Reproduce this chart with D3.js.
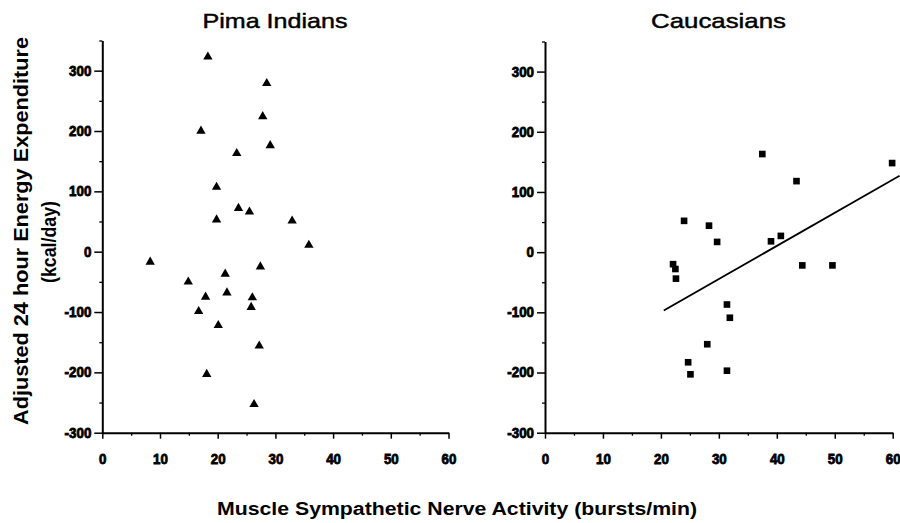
<!DOCTYPE html>
<html><head><meta charset="utf-8">
<script src="https://cdn.jsdelivr.net/npm/d3@7"></script>
<style>
body{margin:0;background:#fff;}
svg{display:block;}
</style></head>
<body>
<svg id="chart" width="900" height="523"></svg>
<script>
// ---- data ----
const pimaX = [18.3, 28.5, 27.8, 17.1, 29.1, 23.3, 19.8, 23.6, 25.5, 19.8, 32.9, 35.8, 8.3, 27.4, 21.3, 14.9, 21.6, 17.9, 26.0, 25.8, 16.7, 20.1, 27.2, 18.1, 26.3];
const pimaY = [323, 279, 224, 200, 176, 163, 107, 72, 66, 53, 51, 11, -17, -25, -37, -50, -68, -75, -76, -92, -99, -122, -156, -203, -253];
const caucX = [37.5, 59.9, 43.4, 24.0, 28.3, 29.7, 39.0, 40.7, 22.1, 22.5, 22.6, 44.4, 49.6, 31.4, 31.9, 28.0, 24.7, 25.1, 31.4];
const caucY = [163, 148, 118, 52, 44, 17, 18, 27, -20, -28, -44, -22, -22, -87, -109, -153, -183, -203, -197];
const fitX = [20.5, 61.2];
const fitY = [-97, 127];
const xMajorTicks = [0, 10, 20, 30, 40, 50, 60];
const xMinorTicks = [5, 15, 25, 35, 45, 55];
const yMajorTicks = [-300, -200, -100, 0, 100, 200, 300];
const yMinorTicks = [-250, -150, -50, 50, 150, 250, 350];
const titles = ["Pima Indians", "Caucasians"];
const yLabel1 = "Adjusted 24 hour Energy Expenditure";
const yLabel2 = "(kcal/day)";
const xLabel = "Muscle Sympathetic Nerve Activity (bursts/min)";

const FONT = "Liberation Sans, Arial, Helvetica, sans-serif";
const svg = d3.select("#chart");

const panels = [
  {x0: 102.3, x1: 448.5, y0: 432.7, y1: 40.5, title: titles[0], tx: 275, tl: 145, xs: pimaX, ys: pimaY, sym: d3.symbolTriangle, size: 38},
  {x0: 545, x1: 892.7, y0: 432.7, y1: 41.5, title: titles[1], tx: 718.5, tl: 135, xs: caucX, ys: caucY, sym: d3.symbolSquare, size: 44}
];

function styleTickText(sel) {
  sel.selectAll(".tick text")
    .style("font-family", FONT).style("font-weight", "bold").style("font-size", "14px").attr("fill", "#000")
    .attr("stroke", "#000").attr("stroke-width", 0.8)
    .attr("textLength", function() {
      const s = this.textContent;
      let w = 0;
      for (const c of s) w += (c === "-") ? 4.5 : 7.4;
      return w;
    })
    .attr("lengthAdjust", "spacingAndGlyphs");
}

panels.forEach((p, i) => {
  const x = d3.scaleLinear().domain([0, 60]).range([p.x0, p.x1]);
  const y = d3.scaleLinear().domain([-300, 350]).range([p.y0, p.y1]);
  const g = svg.append("g");

  // minor ticks
  g.append("g").attr("transform", `translate(0,${p.y0})`)
    .call(d3.axisBottom(x).tickValues(xMinorTicks).tickSize(3).tickFormat(""))
    .call(s => s.select(".domain").remove())
    .selectAll("line").attr("stroke-width", 1.3);
  g.append("g").attr("transform", `translate(${p.x0},0)`)
    .call(d3.axisLeft(y).tickValues(yMinorTicks).tickSize(3).tickFormat(""))
    .call(s => s.select(".domain").remove())
    .selectAll("line").attr("stroke-width", 1.3);

  // major x axis
  const xa = g.append("g").attr("transform", `translate(0,${p.y0})`)
    .call(d3.axisBottom(x).tickValues(xMajorTicks).tickSize(6).tickSizeOuter(0).tickPadding(15).tickFormat(d => String(d)));
  xa.select(".domain").attr("stroke-width", 2);
  xa.selectAll(".tick line").attr("stroke-width", 1.5);
  styleTickText(xa);

  // major y axis
  const ya = g.append("g").attr("transform", `translate(${p.x0},0)`)
    .call(d3.axisLeft(y).tickValues(yMajorTicks).tickSize(8).tickSizeOuter(0).tickPadding(3).tickFormat(d => String(d)));
  ya.select(".domain").attr("stroke-width", 2);
  ya.selectAll(".tick line").attr("stroke-width", 1.5);
  styleTickText(ya);

  // title
  svg.append("text").attr("x", p.tx).attr("y", 28).attr("text-anchor", "middle")
    .attr("font-family", FONT).attr("font-size", 21)
    .attr("stroke", "#000").attr("stroke-width", 0.45)
    .attr("textLength", p.tl).attr("lengthAdjust", "spacingAndGlyphs")
    .text(p.title);

  // points
  g.selectAll("path.pt").data(p.xs.map((v, k) => [v, p.ys[k]])).enter().append("path")
    .attr("class", "pt")
    .attr("transform", d => `translate(${x(d[0])},${y(d[1])})`)
    .attr("d", d3.symbol().type(p.sym).size(p.size))
    .attr("fill", "#000");

  if (i === 1) {
    const line = d3.line().x(d => x(d[0])).y(d => y(d[1]));
    g.append("path").datum(fitX.map((v, k) => [v, fitY[k]]))
      .attr("d", line).attr("fill", "none").attr("stroke", "#000").attr("stroke-width", 1.8);
  }
});

// axis labels
svg.append("text").attr("transform", "translate(28,231) rotate(-90)")
  .attr("text-anchor", "middle").attr("font-family", FONT)
  .attr("font-weight", "bold").attr("font-size", 20).attr("textLength", 388).attr("lengthAdjust", "spacingAndGlyphs")
  .text(yLabel1);
svg.append("text").attr("transform", "translate(56,242) rotate(-90)")
  .attr("text-anchor", "middle").attr("font-family", FONT)
  .attr("font-weight", "bold").attr("font-size", 20).attr("textLength", 82).attr("lengthAdjust", "spacingAndGlyphs")
  .text(yLabel2);
svg.append("text").attr("x", 457).attr("y", 515)
  .attr("text-anchor", "middle").attr("font-family", FONT)
  .attr("font-weight", "bold").attr("font-size", 18).attr("textLength", 480).attr("lengthAdjust", "spacingAndGlyphs")
  .text(xLabel);
</script>
</body></html>
